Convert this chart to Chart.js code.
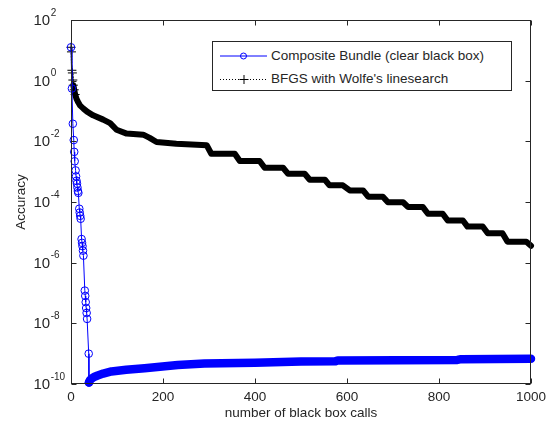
<!DOCTYPE html>
<html>
<head>
<meta charset="utf-8">
<script src="https://cdn.jsdelivr.net/npm/chart.js@4/dist/chart.umd.min.js"></script>
<style>
  body { margin: 0; background: #fff; }
  #wrap { position: relative; width: 551px; height: 421px; }
  #legend {
    position: absolute; left: 212px; top: 41px; width: 300px; height: 50px;
    box-sizing: border-box; border: 1px solid #262626; background: #fff;
    font: 13.5px 'Liberation Sans', Arial, sans-serif; color: #262626;
  }
  #legend .row { position: absolute; left: 0; height: 18px; line-height: 18px; white-space: nowrap; }
  #legend svg { position: absolute; left: 7px; top: 3px; }
  #legend span { position: absolute; left: 58px; top: 0; }
</style>
</head>
<body>
<div id="wrap">
  <canvas id="chart" width="551" height="421"></canvas>
  <div id="legend"></div>
</div>
<script>
// series names
var seriesNames = ['Composite Bundle (clear black box)', "BFGS with Wolfe's linesearch"];

// Composite Bundle: number of black box calls / accuracy
var bundleX = [0, 2, 4, 6, 7, 8, 10, 11, 12, 13, 14, 15, 16, 18, 19, 20, 21, 23, 24, 25, 26, 27,
    30, 31, 32, 33, 34, 35, 38.5, 39,
    41, 44, 50, 58, 70, 88, 120, 160, 232, 290, 400, 500, 575, 580, 840, 848, 1000];
var bundleY = [12.6, 0.55, 3.8e-2, 1.1e-2, 4.5e-3, 2.2e-3, 1.1e-3, 7e-4, 5e-4, 4e-4, 3e-4, 2.3e-4, 2e-4,
    6e-5, 4.5e-5, 3.5e-5, 2.8e-5, 6e-6, 4.5e-6, 3.5e-6, 2.5e-6, 1.7e-6,
    1.2e-7, 8e-8, 5e-8, 3.2e-8, 2.2e-8, 1.4e-8, 1e-9, 1.12e-10,
    1.32e-10, 1.48e-10, 1.7e-10, 1.9e-10, 2.2e-10, 2.6e-10, 2.95e-10, 3.3e-10, 4.2e-10, 4.7e-10,
    5e-10, 5.5e-10, 5.6e-10, 6e-10, 6.2e-10, 6.6e-10, 6.8e-10];

// BFGS: number of black box calls / accuracy
var bfgsX = [0, 1, 2, 3, 4, 5, 7, 9, 12, 16, 20, 27, 35, 48, 70, 85, 99, 121, 157, 171, 186, 229, 295,
    305, 356, 367, 410, 421, 461, 472, 508, 519, 552, 562, 591, 606, 635, 646, 678, 689, 722,
    733, 765, 776, 808, 819, 852, 862, 895, 906, 938, 949, 990, 1000];
var bfgsY = [12.6, 8.9, 2.2, 1.8, 1.05, 0.71, 0.5, 0.35, 0.25, 0.19, 0.15, 0.12, 0.095, 0.072, 0.052,
    0.04, 0.024, 0.018, 0.0166, 0.013, 0.0095, 0.0083, 0.0074,
    3.9e-3, 3.9e-3, 2.24e-3, 2.24e-3, 1.35e-3, 1.35e-3, 8.5e-4, 8.5e-4, 5.4e-4, 5.4e-4,
    3.55e-4, 3.55e-4, 2.4e-4, 2.4e-4, 1.5e-4, 1.5e-4, 9.8e-5, 9.8e-5, 6.8e-5, 6.8e-5,
    4.1e-5, 4.1e-5, 2.45e-5, 2.45e-5, 1.55e-5, 1.55e-5, 9.3e-6, 9.3e-6, 4.9e-6, 4.9e-6, 3.6e-6];

// axis ticks
var xTicks = [0, 200, 400, 600, 800, 1000];
var yTicks = [1e2, 1e0, 1e-2, 1e-4, 1e-6, 1e-8, 1e-10];
var yTickExps = ['2', '0', '-2', '-4', '-6', '-8', '-10'];

var AXIS = '#262626';
var FONT = "'Liberation Sans', Arial, sans-serif";

function pts(xs, ys) {
    return xs.map(function (x, i) { return {x: x, y: ys[i]}; });
}

// box, inward ticks and 10^n tick labels (MATLAB look)
var framePlugin = {
    id: 'frame',
    afterDraw: function (chart) {
        var ctx = chart.ctx, a = chart.chartArea;
        var xs = chart.scales.x, ys = chart.scales.y;
        var L = Math.round(a.left) + 0.5, R = Math.round(a.right) - 0.5;
        var T = Math.round(a.top) + 0.5, B = Math.round(a.bottom) - 0.5;
        ctx.save();
        ctx.strokeStyle = AXIS;
        ctx.lineWidth = 1;
        ctx.strokeRect(L, T, R - L, B - T);
        ctx.beginPath();
        xTicks.forEach(function (v) {
            var px = Math.round(xs.getPixelForValue(v)) + 0.5;
            ctx.moveTo(px, B); ctx.lineTo(px, B - 5);
            ctx.moveTo(px, T); ctx.lineTo(px, T + 5);
        });
        yTicks.forEach(function (v) {
            var py = Math.round(ys.getPixelForValue(v)) + 0.5;
            ctx.moveTo(L, py); ctx.lineTo(L + 5, py);
            ctx.moveTo(R, py); ctx.lineTo(R - 5, py);
        });
        ctx.stroke();

        ctx.fillStyle = AXIS;
        ctx.textAlign = 'left';
        ctx.textBaseline = 'middle';
        yTicks.forEach(function (v, i) {
            var py = ys.getPixelForValue(v);
            ctx.font = '15px ' + FONT;
            var w = ctx.measureText('10').width;
            ctx.fillText('10', 33.5, py + 1);
            ctx.font = '10px ' + FONT;
            ctx.fillText(yTickExps[i], 33.5 + w + 0.5, py - 7);
        });
        ctx.restore();
    }
};

var ctx = document.getElementById('chart').getContext('2d');
new Chart(ctx, {
    type: 'line',
    data: {
        datasets: [{
            label: seriesNames[0],
            data: pts(bundleX, bundleY),
            borderColor: '#0000ff',
            backgroundColor: 'rgba(0,0,0,0)',
            borderWidth: 1,
            borderCapStyle: 'round',
            borderJoinStyle: 'round',
            pointStyle: 'circle',
            pointRadius: function (c) { return c.raw && c.raw.x <= 39 ? 3.8 : 0; },
            pointBorderColor: '#0000ff',
            pointBackgroundColor: 'rgba(0,0,0,0)',
            pointBorderWidth: 1,
            segment: {
                borderWidth: function (c) { return c.p0.parsed.x >= 39 ? 8.5 : 1; }
            },
            clip: 8
        }, {
            label: seriesNames[1],
            data: pts(bfgsX, bfgsY),
            borderColor: '#000',
            backgroundColor: 'rgba(0,0,0,0)',
            borderWidth: 6,
            borderJoinStyle: 'round',
            borderCapStyle: 'round',
            pointStyle: 'cross',
            pointRadius: function (c) { return c.raw && c.raw.x <= 9 ? 4.5 : 0; },
            pointBorderColor: '#000',
            pointBorderWidth: 1,
            segment: {
                borderWidth: function (c) { return c.p0.parsed.x < 5 ? 1 : 6; },
                borderDash: function (c) { return c.p0.parsed.x < 5 ? [1, 2] : []; }
            },
            clip: 8
        }]
    },
    options: {
        responsive: false,
        animation: false,
        events: [],
        layout: { padding: { top: 20, right: 19, left: 0, bottom: 0 } },
        plugins: { legend: { display: false }, tooltip: { enabled: false } },
        scales: {
            x: {
                type: 'linear',
                min: 0, max: 1000,
                afterBuildTicks: function (s) { s.ticks = xTicks.map(function (v) { return {value: v}; }); },
                afterFit: function (s) { s.height = 37; },
                grid: { display: false, drawTicks: false },
                border: { display: false },
                ticks: { autoSkip: false, maxRotation: 0, padding: 5, color: AXIS,
                    font: { family: FONT, size: 13.5 },
                    callback: function (v) { return String(v); } },
                title: { display: true, text: 'number of black box calls', color: AXIS,
                    font: { family: FONT, size: 13.5 }, padding: { top: 0, bottom: 0 } }
            },
            y: {
                type: 'logarithmic',
                min: 1e-10, max: 1e2,
                afterBuildTicks: function (s) { s.ticks = yTicks.map(function (v) { return {value: v}; }); },
                afterFit: function (s) { s.width = 71; },
                grid: { display: false, drawTicks: false },
                border: { display: false },
                ticks: { display: false },
                title: { display: true, text: 'Accuracy', color: AXIS,
                    font: { family: FONT, size: 13.5 }, padding: { top: 13, bottom: 0 } }
            }
        }
    },
    plugins: [framePlugin]
});

// legend drawn as html, in the MATLAB box style
var legend = document.getElementById('legend');
legend.innerHTML =
    '<div class="row" style="top:5px">' +
    '<svg width="48" height="12"><line x1="0" y1="6" x2="47" y2="6" stroke="#0000ff" stroke-width="1"/>' +
    '<circle cx="23.5" cy="6" r="3" fill="none" stroke="#0000ff" stroke-width="1"/></svg>' +
    '<span>' + seriesNames[0] + '</span></div>' +
    '<div class="row" style="top:28px">' +
    '<svg width="48" height="12"><line x1="0" y1="6.5" x2="47" y2="6.5" stroke="#000" stroke-width="1" stroke-dasharray="1 2"/>' +
    '<path d="M19.5 6.5H28.5M24 2V11" stroke="#000" stroke-width="1"/></svg>' +
    '<span>' + seriesNames[1] + '</span></div>';
</script>
</body>
</html>
